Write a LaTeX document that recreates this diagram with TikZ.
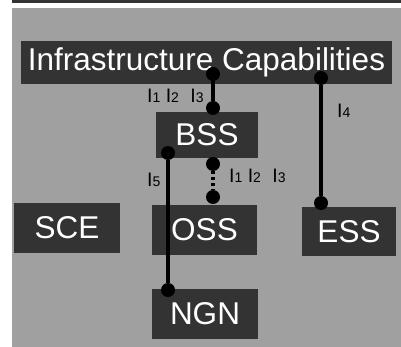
\documentclass[tikz,border=0pt]{standalone}
\usepackage{fontspec}
\setmainfont{Liberation Sans}
\usetikzlibrary{positioning}
\definecolor{colPanel}{RGB}{160,160,160}
\definecolor{colBox}{RGB}{51,51,51}
\newcommand{\ifsub}[1]{{\fontsize{14}{14}\selectfont #1}}

\begin{document}
\begin{tikzpicture}[x=1pt, y=-1pt,
  box/.style={rectangle, fill=colBox, text=white, inner sep=0pt,
              font=\fontsize{31.5}{32}\selectfont},
  lbl/.style={anchor=base west, inner sep=0pt, font=\fontsize{19.5}{20}\selectfont},
  pin/.style={circle, fill=black, inner sep=0pt, minimum size=14pt},
  wire/.style={line width=3.5pt},
]
\useasboundingbox (0,0) rectangle (401,347);
\fill[white] (0,0) rectangle (401,347);
\fill[colBox] (12,0) rectangle (401,3);
\fill[colPanel] (12,8) rectangle (401,347);

\node[box, minimum width=371pt, minimum height=43pt] (infra) at (206.5,62.5) {Infrastructure Capabilities};
\node[box, minimum width=102pt, minimum height=46pt] (bss) at (207,135) {BSS};
\node[box, minimum width=106pt, minimum height=50pt] (sce) at (67,228) {SCE};
\node[box, minimum width=105pt, minimum height=50pt] (oss) at (204.5,230) {OSS};
\node[box, minimum width=94pt, minimum height=49pt] (ess) at (349,231.5) {ESS};
\node[box, minimum width=106pt, minimum height=50pt] (ngn) at (205,314) {NGN};

% interface end points
\node[pin] (pInfraB) at (213,74) {};
\node[pin] (pBssT) at (213,108) {};
\node[pin] (pBssL) at (168,153) {};
\node[pin] (pNgn) at (168,290) {};
\node[pin] (pBssB) at (213,164) {};
\node[pin] (pOss) at (213,197) {};
\node[pin] (pInfraE) at (321,78) {};
\node[pin] (pEss) at (321,203) {};

\draw[wire] (pInfraB) -- (pBssT);
\draw[wire] (pBssL) -- (pNgn);
\draw[wire, dash pattern=on 3pt off 3pt] (pBssB) -- (pOss);
\draw[wire] (pInfraE) -- (pEss);

\node[lbl] (lblA) at (147,103) {I\ifsub{1} I\ifsub{2}\hspace{6pt} I\ifsub{3}};
\node[lbl] (lblB) at (229,183) {I\ifsub{1} I\ifsub{2}\hspace{6pt} I\ifsub{3}};
\node[lbl] (lblC) at (147,187) {I\ifsub{5}};
\node[lbl] (lblD) at (337,118) {I\ifsub{4}};
\end{tikzpicture}
\end{document}
